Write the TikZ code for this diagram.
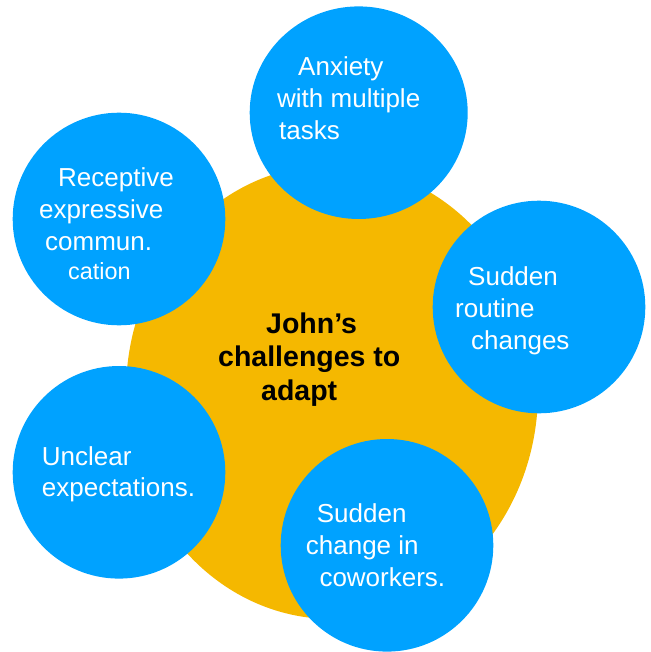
\documentclass[tikz,border=0pt]{standalone}
\usepackage{fontspec}
\setmainfont{Liberation Sans}
\usetikzlibrary{shapes.geometric}
\definecolor{bubbleblue}{HTML}{00A2FF}
\definecolor{coreorange}{HTML}{F5B800}
\newcommand{\txtblock}[1]{\begin{tabular}[t]{@{}l@{}}#1\end{tabular}}
\tikzset{
  bubble/.style={ellipse,fill=bubbleblue,minimum width=212.6pt,minimum height=212.6pt,inner sep=0pt},
  bubbletxt/.style={anchor=base west,inner sep=0pt,text=white,font=\fontsize{26}{31.7}\selectfont},
  coretxt/.style={anchor=base west,inner sep=0pt,text=black,font=\bfseries\fontsize{28.5}{33.5}\selectfont}
}
\begin{document}
\begin{tikzpicture}[x=1pt,y=-1pt]
\useasboundingbox (0,0) rectangle (650,652);
% the core
\node[ellipse,fill=coreorange,minimum width=412pt,minimum height=454pt,inner sep=0pt](core) at (332,392){};
\node[coretxt](coret) at (218,333){\txtblock{\hspace*{48pt}John’s\\challenges to\\\hspace*{43pt}adapt}};
% the five bubbles
\node[bubble,minimum width=218pt](anxiety) at (358.7,112.7){};
\node[bubble](recept) at (119,219){};
\node[bubble](routine) at (539,307){};
\node[bubble](unclear) at (119,472.3){};
\node[bubble](cowork) at (387,545.3){};
\node[bubbletxt](anxietyt) at (277,76){\txtblock{\hspace*{21pt}Anxiety\\with multiple\\\hspace*{2pt}tasks}};
\node[bubbletxt](receptt) at (39,187){\txtblock{\hspace*{19pt}Receptive\\expressive\\\hspace*{6pt}commun.\\\hspace*{29pt}\raisebox{2.5pt}{\fontsize{23.4}{28}\selectfont cation}}};
\node[bubbletxt](routinet) at (455,285.7){\txtblock{\hspace*{13pt}Sudden\\routine\\\hspace*{16pt}changes}};
\node[bubbletxt](unclreart) at (41.7,465){\txtblock{Unclear\\expectations.}};
\node[bubbletxt](coworkt) at (305.7,522.7){\txtblock{\hspace*{11pt}Sudden\\change in\\\hspace*{13.6pt}coworkers.}};
\end{tikzpicture}
\end{document}
